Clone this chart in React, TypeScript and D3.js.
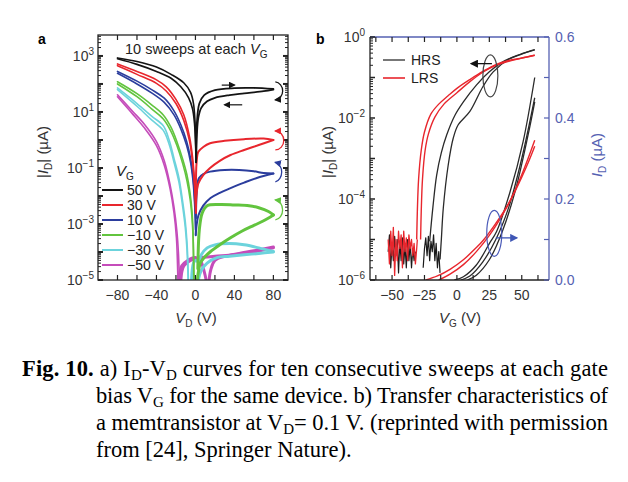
import React from "react";
import * as d3 from "d3";

type P = [number, number];

// ---------- Panel a: I_D–V_D, ten sweeps per gate bias (V_D in V, |I_D| in µA) ----------
const vgLabels = ["50 V", "30 V", "10 V", "\u221210 V", "\u221230 V", "\u221250 V"];
const vgColors = ["#141414", "#e8262d", "#2b3d9d", "#62c43e", "#6cd3dc", "#c54cba"];

const vg50LeftOuter: P[] = [[-80, 850], [-60, 630], [-40, 400], [-25, 220], [-12, 110], [-5, 50], [-2, 20], [-0.5, 5], [0.3, 0.63], [0.7, 0.16]];
const vg50LeftInner: P[] = [[-80, 790], [-60, 500], [-40, 280], [-25, 160], [-15, 79], [-7, 32], [-3, 13], [-1, 4], [0, 1], [0.5, 0.25]];
const vg50RightFwd: P[] = [[0.7, 0.16], [1.5, 4], [4, 20], [9, 40], [20, 60], [40, 71], [60, 72], [80, 66]];
const vg50RightRev: P[] = [[80, 63], [70, 55], [50, 46], [35, 40], [20, 32], [12, 24], [6, 14], [3, 6.3], [1.5, 1.6], [0.7, 0.16]];

const vg30LeftOuter: P[] = [[-80, 520], [-60, 280], [-40, 140], [-30, 79], [-20, 28], [-12, 7.9], [-6, 1.26], [-3, 0.25], [-1, 0.04], [0, 0.01], [0.5, 0.0025]];
const vg30LeftInner: P[] = [[-80, 450], [-60, 220], [-40, 105], [-30, 56], [-20, 20], [-12, 5], [-6, 0.89], [-3, 0.16], [-1, 0.025], [0.3, 0.0025]];
const vg30RightFwd: P[] = [[0.5, 0.01], [1.2, 0.16], [3, 0.38], [8, 0.56], [15, 0.76], [30, 0.93], [50, 1.07], [70, 1.12], [80, 1.0]];
const vg30RightRev: P[] = [[80, 1.0], [65, 0.66], [50, 0.44], [36, 0.29], [25, 0.18], [15, 0.1], [8, 0.056], [3, 0.028], [1, 0.01], [0.5, 0.0025]];

const vg10LeftOuter: P[] = [[-80, 280], [-60, 126], [-45, 63], [-32, 31], [-22, 11], [-15, 3.5], [-9, 0.89], [-5, 0.22], [-2.5, 0.05], [-0.8, 0.0079], [0, 0.0016], [0.3, 0.0004]];
const vg10LeftInner: P[] = [[-80, 240], [-60, 100], [-45, 48], [-32, 22], [-22, 7.9], [-15, 2.5], [-9, 0.63], [-5, 0.16], [-2.5, 0.035], [-0.8, 0.005], [0.2, 0.00063]];
const vg10RightFwd: P[] = [[0.5, 0.0016], [1.5, 0.016], [3.5, 0.043], [8, 0.06], [15, 0.074], [30, 0.085], [45, 0.085], [60, 0.076], [70, 0.066], [80, 0.063]];
const vg10RightRev: P[] = [[80, 0.063], [63, 0.044], [50, 0.03], [36, 0.019], [25, 0.013], [15.5, 0.0085], [8, 0.0045], [3, 0.002], [1, 0.0008], [0.3, 0.0004]];

const vgm10LeftOuter: P[] = [[-80, 120], [-60, 45], [-45, 18], [-33, 7.8], [-25, 2.8], [-19, 0.87], [-13, 0.2], [-8.7, 0.056], [-5.5, 0.0126], [-3.5, 0.0028], [-2.5, 0.00063], [-2, 0.000063], [-1.7, 0.00001]];
const vgm10LeftInner: P[] = [[-80, 100], [-60, 35], [-45, 13], [-33, 5.6], [-25, 2.0], [-19, 0.63], [-13, 0.14], [-8.7, 0.035], [-5.5, 0.0079], [-3.5, 0.0016], [-2.3, 0.00025], [-1.5, 0.00001]];
const vgm10RightFwd: P[] = [[2.5, 0.000025], [4, 0.00063], [7, 0.0025], [12, 0.0045], [25, 0.005], [40, 0.0048], [55, 0.0045], [65, 0.0038], [75, 0.0028], [80, 0.0021]];
const vgm10RightRev: P[] = [[80, 0.0021], [70, 0.0013], [60, 0.00089], [48, 0.00056], [36, 0.00032], [25, 0.00018], [15, 0.0001], [9, 0.000063], [5, 0.00004], [2, 0.00001]];

const vgm30LeftOuter: P[] = [[-80, 72], [-60, 20], [-45, 7.1], [-33, 3.2], [-27, 1.0], [-22, 0.22], [-17, 0.045], [-13.6, 0.0083], [-10.5, 0.0013], [-8.7, 0.00023], [-7.8, 0.00005], [-7.2, 0.00001]];
const vgm30LeftInner: P[] = [[-80, 63], [-60, 16], [-45, 5.2], [-33, 2.2], [-27, 0.7], [-22, 0.16], [-17, 0.032], [-13.6, 0.0056], [-10.5, 0.0008], [-8.7, 0.000126], [-7.5, 0.00001]];
const vgm30RightFwd: P[] = [[-4, 0.00001], [-2, 0.00004], [0, 0.00005], [3, 0.000045], [6, 0.00008], [12, 0.00014], [20, 0.00018], [35, 0.0002], [50, 0.00018], [65, 0.00014], [80, 0.000105]];
const vgm30RightRev: P[] = [[80, 0.0001], [65, 0.000089], [50, 0.000079], [35, 0.00007], [22, 0.000063], [12, 0.00004], [6, 0.000022], [3, 0.00001]];

const vgm50LeftOuter: P[] = [[-80, 41], [-65, 11], [-52, 3.5], [-40, 0.87], [-32, 0.18], [-26, 0.025], [-22, 0.004], [-19, 0.00054], [-17.5, 0.0001], [-16.5, 0.00001]];
const vgm50LeftInner: P[] = [[-80, 35], [-65, 8.9], [-52, 2.6], [-40, 0.63], [-32, 0.126], [-26, 0.018], [-22, 0.0025], [-19.5, 0.00032], [-18, 0.00001]];
const vgm50RightA: P[] = [[-17, 0.00001], [-14, 0.000032], [-8, 0.00005], [0, 0.000063], [5, 0.00005], [9, 0.00002], [11, 0.00001]];
const vgm50RightB: P[] = [[14, 0.00001], [16, 0.000025], [20, 0.00005], [30, 0.00007], [45, 0.000089], [60, 0.00011], [80, 0.00015]];
const vgm50RightC: P[] = [[80, 0.00014], [60, 0.0001], [40, 0.000079], [20, 0.00007], [5, 0.000063], [-5, 0.00005], [-12, 0.000032], [-15, 0.00001]];

const xTicksA = [-80, -60, -40, -20, 0, 20, 40, 60, 80];
const xLabelsA = [-80, -40, 0, 40, 80];
const yLabelExpA = [3, 1, -1, -3, -5];

// ---------- Panel b: transfer characteristics at V_D = 0.1 V (V_G in V, I_D in µA) ----------
const lrsLog1: P[] = [[-31, 1e-5], [-30.5, 5e-5], [-29.5, 3.2e-4], [-27.5, 1.6e-3], [-25, 4.5e-3], [-20, 0.0126], [-14, 0.022], [-7, 0.035], [0, 0.054], [10, 0.089], [20, 0.141], [30, 0.209], [40, 0.263], [50, 0.302], [60, 0.355]];
const lrsLog2: P[] = [[-28, 1e-5], [-27.5, 5e-5], [-26.5, 3.2e-4], [-24.5, 1.6e-3], [-22, 4e-3], [-17, 0.0105], [-10, 0.022], [0, 0.042], [10, 0.079], [20, 0.135], [30, 0.2], [40, 0.251], [50, 0.302], [60, 0.355]];
const hrsLog1: P[] = [[-21, 9e-6], [-18.5, 6.3e-5], [-15.6, 3.9e-4], [-12, 1.4e-3], [-7.9, 3.8e-3], [-1.5, 0.0117], [5, 0.025], [15, 0.065], [25, 0.138], [35, 0.24], [45, 0.339], [55, 0.437], [60, 0.49]];
const hrsLog2: P[] = [[-13, 3.2e-6], [-12, 1e-5], [-10.5, 5.9e-5], [-6.7, 6.9e-4], [-2.8, 3.2e-3], [1, 6.8e-3], [10, 0.0145], [20, 0.059], [28, 0.138], [40, 0.282], [50, 0.38], [60, 0.479]];

const lrsLin1: P[] = [[-24, 0], [-15, 0.01], [-5, 0.027], [5, 0.05], [15, 0.08], [20, 0.097], [30, 0.14], [40, 0.19], [50, 0.26], [60, 0.345]];
const lrsLin2: P[] = [[-14, 0], [-5, 0.015], [5, 0.038], [15, 0.07], [25, 0.11], [35, 0.16], [45, 0.22], [55, 0.29], [60, 0.33]];
const hrsLin1: P[] = [[-2, 0], [5, 0.008], [15, 0.037], [25, 0.09], [30.5, 0.119], [41, 0.218], [51, 0.341], [60, 0.5]];
const hrsLin2: P[] = [[3, 0], [10, 0.01], [20, 0.045], [30, 0.1], [40, 0.18], [50, 0.3], [60, 0.45]];
const hrsLin3: P[] = [[8, 0], [15, 0.012], [25, 0.05], [35, 0.12], [45, 0.22], [55, 0.36], [60, 0.44]];

const lrsNoise: P[] = [[-53, 1.0e-5], [-52, 2.5e-6], [-51, 1.6e-5], [-50, 4e-6], [-49, 2e-5], [-48, 1.3e-6], [-47, 1.0e-5], [-46, 3e-6], [-45, 1.6e-5], [-44, 6e-6], [-43, 1.3e-5], [-42, 2e-6], [-41, 1.6e-5], [-40, 5e-6], [-39, 1.1e-5], [-38, 3e-6], [-37, 1.3e-5], [-36, 6e-6], [-35, 1.0e-5], [-34, 4e-6], [-33, 8e-6], [-32, 2.5e-6], [-31, 6e-6], [-30.5, 1.0e-5]];
const hrsNoise1: P[] = [[-53, 5e-6], [-52, 1.3e-5], [-51, 2e-6], [-50, 8e-6], [-49, 3e-6], [-48, 1.2e-5], [-47, 4e-6], [-46, 1.0e-5], [-45, 1.5e-6], [-44, 9e-6], [-43, 3e-6], [-42, 1.1e-5], [-41, 2.5e-6], [-40, 7e-6], [-39, 2e-6], [-38, 1.0e-5], [-37, 3e-6], [-36, 8e-6], [-35, 2e-6], [-34, 6e-6], [-33, 3e-6], [-32, 5e-6]];
const hrsNoise2: P[] = [[-26, 2e-6], [-25, 6e-6], [-24, 1.1e-5], [-23, 4e-6], [-22, 1.2e-5], [-21, 3e-6], [-20, 9e-6], [-19, 5e-6], [-18, 1.3e-5], [-17, 3e-6], [-16, 8e-6], [-15, 2e-6], [-14, 5e-6], [-13, 1.5e-6]];

const xTicksB = [-62.5, -50, -37.5, -25, -12.5, 0, 12.5, 25, 37.5, 50, 62.5];
const xLabelsB = [-50, -25, 0, 25, 50];
const yLabelExpB = [0, -2, -4, -6];
const yTicksR = [0, 0.1, 0.2, 0.3, 0.4, 0.5, 0.6];
const yLabelsR = [0, 0.2, 0.4, 0.6];

const AXIS_BLUE = "#5561b2";
const SANS = "'Liberation Sans', Arial, Helvetica, sans-serif";
const SERIF = "'Liberation Serif', 'Times New Roman', serif";

const fmtMinus = (v: number) => (v < 0 ? "\u2212" + Math.abs(v) : String(v));

export default function App() {
  const xA = d3.scaleLinear().domain([-100, 95]).range([98, 288]);
  const yA = d3.scaleLog().domain([1e-5, 5600]).range([280, 35]);
  const xB = d3.scaleLinear().domain([-67, 71]).range([370, 549]);
  const yB = d3.scaleLog().domain([1e-6, 1]).range([280, 37]);
  const yR = d3.scaleLinear().domain([0, 0.6]).range([280, 37]);

  const lineA = d3.line<P>().x((d) => xA(d[0])).y((d) => yA(d[1])).curve(d3.curveCatmullRom.alpha(0.5));
  const lineBlog = d3.line<P>().x((d) => xB(d[0])).y((d) => yB(d[1])).curve(d3.curveCatmullRom.alpha(0.5));
  const lineBlogRaw = d3.line<P>().x((d) => xB(d[0])).y((d) => yB(d[1]));
  const lineBlin = d3.line<P>().x((d) => xB(d[0])).y((d) => yR(d[1])).curve(d3.curveCatmullRom.alpha(0.5));

  const sweeps: { color: string; left: P[][]; right: P[][]; rw: number }[] = [
    { color: vgColors[5], left: [vgm50LeftOuter, vgm50LeftInner], right: [vgm50RightA, vgm50RightB, vgm50RightC], rw: 3 },
    { color: vgColors[4], left: [vgm30LeftOuter, vgm30LeftInner], right: [vgm30RightFwd, vgm30RightRev], rw: 3 },
    { color: vgColors[3], left: [vgm10LeftOuter, vgm10LeftInner], right: [vgm10RightFwd, vgm10RightRev], rw: 3 },
    { color: vgColors[2], left: [vg10LeftOuter, vg10LeftInner], right: [vg10RightFwd, vg10RightRev], rw: 2 },
    { color: vgColors[1], left: [vg30LeftOuter, vg30LeftInner], right: [vg30RightFwd, vg30RightRev], rw: 2 },
    { color: vgColors[0], left: [vg50LeftOuter, vg50LeftInner], right: [vg50RightFwd, vg50RightRev], rw: 1.8 },
  ];

  const [ax0, ax1] = xA.range();
  const [ay0, ay1] = yA.range(); // 280, 35
  const [bx0, bx1] = xB.range();
  const [by0, by1] = yB.range();

  const decA = d3.range(-5, 4);
  const minorA = decA.flatMap((e) => d3.range(2, 10).map((m) => m * Math.pow(10, e))).filter((v) => v < 5600);
  const decB = d3.range(-6, 1);
  const minorB = decB.flatMap((e) => d3.range(2, 10).map((m) => m * Math.pow(10, e))).filter((v) => v < 1);

  const tickStroke = "#222";

  return (
    <svg width={628} height={482} style={{ position: "fixed", left: 0, top: 0, background: "#fff" }} fontFamily={SANS}>
      <defs>
        <clipPath id="clipA"><rect x={ax0} y={ay1} width={ax1 - ax0} height={ay0 - ay1} /></clipPath>
        <clipPath id="clipB"><rect x={bx0} y={by1} width={bx1 - bx0} height={by0 - by1} /></clipPath>
        {vgColors.slice(0, 4).map((c, i) => (
          <marker key={i} id={`ah${i}`} viewBox="0 0 10 10" refX={8} refY={5} markerWidth={7} markerHeight={7} markerUnits="userSpaceOnUse" orient="auto">
            <path d="M0,0 L10,5 L0,10 z" fill={c} />
          </marker>
        ))}
        <marker id="ahBlue" viewBox="0 0 10 10" refX={8} refY={5} markerWidth={8} markerHeight={8} markerUnits="userSpaceOnUse" orient="auto">
          <path d="M0,0 L10,5 L0,10 z" fill="#3f56b5" />
        </marker>
        <marker id="ahBlack" viewBox="0 0 10 10" refX={8} refY={5} markerWidth={8} markerHeight={8} markerUnits="userSpaceOnUse" orient="auto">
          <path d="M0,0 L10,5 L0,10 z" fill="#111" />
        </marker>
      </defs>
      <rect x={0} y={0} width={628} height={482} fill="#fff" />

      {/* ================= Panel a ================= */}
      <text x={38} y={44} fontSize={14} fontWeight="bold">a</text>
      <g clipPath="url(#clipA)" fill="none" strokeLinejoin="round" strokeLinecap="round">
        {sweeps.map((s, i) => (
          <g key={i} stroke={s.color}>
            {s.left.map((pts, j) => <path key={"l" + j} d={lineA(pts) || ""} strokeWidth={1.6} />)}
            {s.right.map((pts, j) => <path key={"r" + j} d={lineA(pts) || ""} strokeWidth={s.rw} />)}
          </g>
        ))}
      </g>
      {/* frame & ticks a */}
      <rect x={ax0} y={ay1} width={ax1 - ax0} height={ay0 - ay1} fill="none" stroke={tickStroke} strokeWidth={1.3} />
      {decA.map((e) => (
        <g key={e} stroke={tickStroke} strokeWidth={2}>
          <line x1={ax0} x2={ax0 + 5} y1={yA(Math.pow(10, e))} y2={yA(Math.pow(10, e))} />
          <line x1={ax1} x2={ax1 - 5} y1={yA(Math.pow(10, e))} y2={yA(Math.pow(10, e))} />
        </g>
      ))}
      {minorA.map((v, i) => (
        <g key={i} stroke={tickStroke} strokeWidth={1}>
          <line x1={ax0} x2={ax0 + 3} y1={yA(v)} y2={yA(v)} />
          <line x1={ax1} x2={ax1 - 3} y1={yA(v)} y2={yA(v)} />
        </g>
      ))}
      {xTicksA.map((v) => (
        <g key={v} stroke={tickStroke} strokeWidth={1.2}>
          <line x1={xA(v)} x2={xA(v)} y1={ay0} y2={ay0 - 5} />
          <line x1={xA(v)} x2={xA(v)} y1={ay1} y2={ay1 + 5} />
        </g>
      ))}
      {yLabelExpA.map((e) => (
        <text key={e} x={ax0 - 4} y={yA(Math.pow(10, e)) + 5} textAnchor="end" fontSize={14} fill="#333">
          10<tspan fontSize={10} dy={-6}>{fmtMinus(e)}</tspan>
        </text>
      ))}
      {xLabelsA.map((v) => (
        <text key={v} x={xA(v)} y={ay0 + 20} textAnchor="middle" fontSize={14} fill="#333">{fmtMinus(v)}</text>
      ))}
      <text x={196} y={323} textAnchor="middle" fontSize={15} fill="#333">
        <tspan fontStyle="italic">V</tspan><tspan fontSize={10} dy={4}>D</tspan><tspan dy={-4}> (V)</tspan>
      </text>
      <text transform="translate(48,152) rotate(-90)" textAnchor="middle" fontSize={15} fill="#333">
        |<tspan fontStyle="italic">I</tspan><tspan fontSize={10} dy={4}>D</tspan><tspan dy={-4}>| (µA)</tspan>
      </text>
      <text x={125} y={54} fontSize={14.5} fill="#222">
        10 sweeps at each <tspan fontStyle="italic">V</tspan><tspan fontSize={10} dy={4}>G</tspan>
      </text>
      {/* legend a */}
      <text x={116} y={176} fontSize={15} fill="#222"><tspan fontStyle="italic">V</tspan><tspan fontSize={10} dy={4}>G</tspan></text>
      {vgLabels.map((lab, i) => (
        <g key={lab}>
          <line x1={102} x2={123} y1={190 + i * 15} y2={190 + i * 15} stroke={vgColors[i]} strokeWidth={2} />
          <text x={127} y={195 + i * 15} fontSize={14} fill="#222">{lab}</text>
        </g>
      ))}
      {/* sweep-direction arrows a */}
      <line x1={xA(27)} x2={xA(40)} y1={yA(91)} y2={yA(91)} stroke="#111" strokeWidth={1.2} markerEnd="url(#ah0)" />
      <line x1={xA(48)} x2={xA(30)} y1={yA(18)} y2={yA(18)} stroke="#111" strokeWidth={1.2} markerEnd="url(#ah0)" />
      <path d={`M${xA(82)},${yA(118)} A8 9 0 0 1 ${xA(82)},${yA(27)}`} fill="none" stroke={vgColors[0]} strokeWidth={1.3} markerEnd="url(#ah0)" />
      <path d={`M${xA(82)},${yA(0.44)} A8 9 0 0 0 ${xA(82)},${yA(2.1)}`} fill="none" stroke={vgColors[1]} strokeWidth={1.3} markerEnd="url(#ah1)" />
      <path d={`M${xA(82)},${yA(0.032)} A8 10 0 0 0 ${xA(82)},${yA(0.16)}`} fill="none" stroke={vgColors[2]} strokeWidth={1.3} markerEnd="url(#ah2)" />
      <path d={`M${xA(82)},${yA(0.0014)} A8 10 0 0 0 ${xA(82)},${yA(0.0072)}`} fill="none" stroke={vgColors[3]} strokeWidth={1.3} markerEnd="url(#ah3)" />

      {/* ================= Panel b ================= */}
      <text x={316} y={44} fontSize={14} fontWeight="bold">b</text>
      <g clipPath="url(#clipB)" fill="none" strokeLinejoin="round">
        <path d={lineBlogRaw(hrsNoise1) || ""} stroke="#1a1a1a" strokeWidth={1.2} />
        <path d={lineBlogRaw(hrsNoise2) || ""} stroke="#1a1a1a" strokeWidth={1.2} />
        <path d={lineBlogRaw(lrsNoise) || ""} stroke="#e8262d" strokeWidth={1.3} />
        <path d={lineBlog(hrsLog1) || ""} stroke="#2a2a2a" strokeWidth={1.3} />
        <path d={lineBlog(hrsLog2) || ""} stroke="#2a2a2a" strokeWidth={1.3} />
        <path d={lineBlin(hrsLin1) || ""} stroke="#2a2a2a" strokeWidth={1.3} />
        <path d={lineBlin(hrsLin2) || ""} stroke="#2a2a2a" strokeWidth={1.3} />
        <path d={lineBlin(hrsLin3) || ""} stroke="#2a2a2a" strokeWidth={1.3} />
        <path d={lineBlog(lrsLog1) || ""} stroke="#e8262d" strokeWidth={1.4} />
        <path d={lineBlog(lrsLog2) || ""} stroke="#e8262d" strokeWidth={1.4} />
        <path d={lineBlin(lrsLin1) || ""} stroke="#e8262d" strokeWidth={1.4} />
        <path d={lineBlin(lrsLin2) || ""} stroke="#e8262d" strokeWidth={1.4} />
      </g>
      {/* axes b */}
      <line x1={bx0} x2={bx1} y1={by1} y2={by1} stroke={AXIS_BLUE} strokeWidth={1.3} />
      <line x1={bx1} x2={bx1} y1={by1} y2={by0} stroke={AXIS_BLUE} strokeWidth={1.3} />
      <line x1={bx0} x2={bx1} y1={by0} y2={by0} stroke={tickStroke} strokeWidth={1.3} />
      <line x1={bx0} x2={bx0} y1={by1} y2={by0} stroke={tickStroke} strokeWidth={1.3} />
      {decB.map((e) => (
        <line key={e} x1={bx0} x2={bx0 + 5} y1={yB(Math.pow(10, e))} y2={yB(Math.pow(10, e))} stroke={tickStroke} strokeWidth={1.5} />
      ))}
      {minorB.map((v, i) => (
        <line key={i} x1={bx0} x2={bx0 + 3} y1={yB(v)} y2={yB(v)} stroke={tickStroke} strokeWidth={1} />
      ))}
      {xTicksB.map((v) => (
        <g key={v} stroke={tickStroke} strokeWidth={1.2}>
          <line x1={xB(v)} x2={xB(v)} y1={by0} y2={by0 - 5} />
          <line x1={xB(v)} x2={xB(v)} y1={by1} y2={by1 + 5} />
        </g>
      ))}
      {yTicksR.map((v) => (
        <line key={v} x1={bx1} x2={bx1 - 5} y1={yR(v)} y2={yR(v)} stroke={AXIS_BLUE} strokeWidth={1.2} />
      ))}
      {yLabelExpB.map((e) => (
        <text key={e} x={bx0 - 5} y={yB(Math.pow(10, e)) + 5} textAnchor="end" fontSize={14} fill="#333">
          10<tspan fontSize={10} dy={-6}>{fmtMinus(e)}</tspan>
        </text>
      ))}
      {yLabelsR.map((v) => (
        <text key={v} x={bx1 + 6} y={yR(v) + 5} fontSize={14} fill={AXIS_BLUE}>{v.toFixed(1)}</text>
      ))}
      {xLabelsB.map((v) => (
        <text key={v} x={xB(v)} y={by0 + 20} textAnchor="middle" fontSize={14} fill="#333">{fmtMinus(v)}</text>
      ))}
      <text x={460} y={323} textAnchor="middle" fontSize={15} fill="#333">
        <tspan fontStyle="italic">V</tspan><tspan fontSize={10} dy={4}>G</tspan><tspan dy={-4}> (V)</tspan>
      </text>
      <text transform="translate(333,152) rotate(-90)" textAnchor="middle" fontSize={15} fill="#333">
        |<tspan fontStyle="italic">I</tspan><tspan fontSize={10} dy={4}>D</tspan><tspan dy={-4}>| (µA)</tspan>
      </text>
      <text transform="translate(602,155) rotate(-90)" textAnchor="middle" fontSize={15} fill={AXIS_BLUE}>
        <tspan fontStyle="italic">I</tspan><tspan fontSize={10} dy={4}>D</tspan><tspan dy={-4}> (µA)</tspan>
      </text>
      {/* legend b */}
      <line x1={383} x2={405} y1={60} y2={60} stroke="#555" strokeWidth={1.6} />
      <text x={411} y={65} fontSize={14} fill="#222">HRS</text>
      <line x1={383} x2={405} y1={78} y2={78} stroke="#e8262d" strokeWidth={1.6} />
      <text x={411} y={83} fontSize={14} fill="#222">LRS</text>
      {/* annotations b */}
      <ellipse cx={xB(25.8)} cy={yB(0.11)} rx={7.5} ry={21} fill="none" stroke="#444" strokeWidth={1.2} />
      <line x1={xB(27)} x2={xB(11.3)} y1={yB(0.22)} y2={yB(0.22)} stroke="#111" strokeWidth={1.3} markerEnd="url(#ahBlack)" />
      <ellipse cx={xB(28.8)} cy={yR(0.115)} rx={7.5} ry={23} fill="none" stroke="#4a5ab8" strokeWidth={1.2} />
      <line x1={xB(30)} x2={xB(46)} y1={yR(0.104)} y2={yR(0.104)} stroke="#3f56b5" strokeWidth={1.3} markerEnd="url(#ahBlue)" />

      {/* ================= Caption ================= */}
      <g fontFamily={SERIF} fontSize={22.5} fill="#000">
        <text x={22} y={376} textLength={586} lengthAdjust="spacing">
          <tspan fontWeight="bold">Fig. 10.</tspan>{" a) I"}<tspan fontSize={15} dy={4}>D</tspan><tspan dy={-4}>-V</tspan><tspan fontSize={15} dy={4}>D</tspan><tspan dy={-4}>{" curves for ten consecutive sweeps at each gate"}</tspan>
        </text>
        <text x={96} y={403} textLength={512} lengthAdjust="spacing">
          {"bias V"}<tspan fontSize={15} dy={4}>G</tspan><tspan dy={-4}>{" for the same device. b) Transfer characteristics of"}</tspan>
        </text>
        <text x={96} y={430} textLength={512} lengthAdjust="spacing">
          {"a memtransistor at V"}<tspan fontSize={15} dy={4}>D</tspan><tspan dy={-4}>{"= 0.1  V. (reprinted with permission"}</tspan>
        </text>
        <text x={96} y={457}>from [24], Springer Nature).</text>
      </g>
    </svg>
  );
}
